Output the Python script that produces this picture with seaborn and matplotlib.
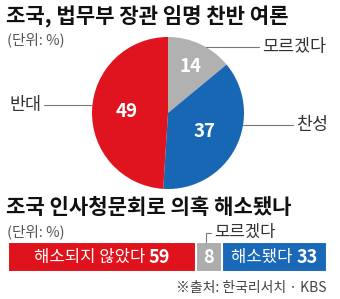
import matplotlib
matplotlib.use("Agg")
import matplotlib.pyplot as plt
import matplotlib.transforms as mtransforms
import seaborn as sns
import numpy as np

# pie: appointment of Cho Kuk, for / against
pie_labels = ["모르겠다", "찬성", "반대"]
pie_values = [14, 37, 49]
pie_colors = ["#b1b1b1", "#1767b4", "#e0141e"]

# bar: were the suspicions resolved by the hearing
bar_labels = ["해소되지 않았다", "", "해소됐다"]
bar_values = [59, 8, 33]
bar_colors = ["#e0121b", "#adadad", "#1a68b8"]

W, H = 340, 299
sns.set_theme(style="white")
plt.rcParams["font.family"] = ["Noto Sans CJK KR", "DejaVu Sans"]

fig = plt.figure(figsize=(W / 100, H / 100), dpi=100)
fig.patch.set_facecolor("white")


def px(x, y):
    return x / W, 1 - y / H


# titles
fig.text(*px(6, 17), "조국, 법무부 장관 임명 찬반 여론", fontsize=15.2,
         fontweight="bold", color="#111111", va="center", ha="left")
fig.text(*px(7, 40), "(단위: %)", fontsize=10.5, color="#555555",
         va="center", ha="left")
fig.text(*px(6, 207), "조국 인사청문회로 의혹 해소됐나", fontsize=15.2,
         fontweight="bold", color="#111111", va="center", ha="left")
fig.text(*px(7, 232), "(단위: %)", fontsize=10.5, color="#555555",
         va="center", ha="left")
fig.text(*px(327, 288), "※출처: 한국리서치 · KBS", fontsize=10,
         color="#444444", va="center", ha="right")

# ---- pie ----
ax1 = fig.add_axes([92 / W, 1 - 189 / H, 152 / W, 152 / H])
wedges, _ = ax1.pie(pie_values, colors=pie_colors, startangle=90,
                    counterclock=False, wedgeprops=dict(linewidth=0))
ax1.set_xlim(-1, 1)
ax1.set_ylim(-1, 1)
ax1.set_aspect("equal")
ax1.axis("off")

num_dist = [0.68, 0.54, 0.55]
for w, v, d in zip(wedges, pie_values, num_dist):
    ang = np.deg2rad((w.theta1 + w.theta2) / 2)
    ax1.text(d * np.cos(ang), d * np.sin(ang), str(v), color="white",
             fontsize=13.5, fontweight="bold", ha="center", va="center")

# category labels with leader lines
label_pos = {"모르겠다": (1.24, 0.868, "left"),
             "찬성": (1.68, -0.158, "left"),
             "반대": (-1.66, 0.105, "right")}
for lab in pie_labels:
    tx, ty, ha = label_pos[lab]
    cx = np.sqrt(1 - ty ** 2) * np.sign(tx)
    end = tx - 0.04 if ha == "left" else tx + 0.03
    ax1.plot([cx, end], [ty, ty], color="#777777", lw=0.8, clip_on=False)
    ax1.text(tx, ty, lab, fontsize=12.5, color="#333333", ha=ha, va="center")

# ---- stacked bar ----
ax2 = fig.add_axes([8 / W, 1 - 272 / H, 319 / W, 30 / H])
cum = np.cumsum(bar_values)
for val, col in zip(cum[::-1], bar_colors[::-1]):
    sns.barplot(x=[val], y=["bar"], orient="h", color=col, saturation=1,
                width=1.0, edgecolor="white", linewidth=1.5, ax=ax2)
ax2.set_xlim(0, 100)
ax2.set_ylim(0.5, -0.5)
ax2.axis("off")

renderer = fig.canvas.get_renderer()
for lab, val, c in zip(bar_labels, bar_values, cum):
    mid = c - val / 2
    if lab:
        t1 = ax2.text(mid, 0, lab + " ", fontsize=12, color="white",
                      ha="right", va="center")
        t2 = ax2.text(mid, 0.02, str(val), fontsize=13, fontweight="bold",
                      color="white", ha="left", va="center")
        w1 = t1.get_window_extent(renderer).width
        w2 = t2.get_window_extent(renderer).width
        shift = (w1 - w2) / 2
        for t in (t1, t2):
            t.set_transform(mtransforms.offset_copy(ax2.transData, fig=fig,
                                                    x=shift, y=0, units="dots"))
    else:
        ax2.text(mid, 0.02, str(val), fontsize=13, fontweight="bold",
                 color="white", ha="center", va="center")

# bracket for the small "모르겠다" segment
gmid = cum[1] - bar_values[1] / 2
ax2.plot([gmid - 1, gmid - 1, gmid + 0.5], [-0.5, -0.8, -0.8], color="#777777",
         lw=0.8, clip_on=False)
ax2.text(gmid + 1.5, -0.82, pie_labels[0], fontsize=12, color="#333333",
         ha="left", va="center")

fig.savefig("out.png", dpi=100, facecolor="white")
